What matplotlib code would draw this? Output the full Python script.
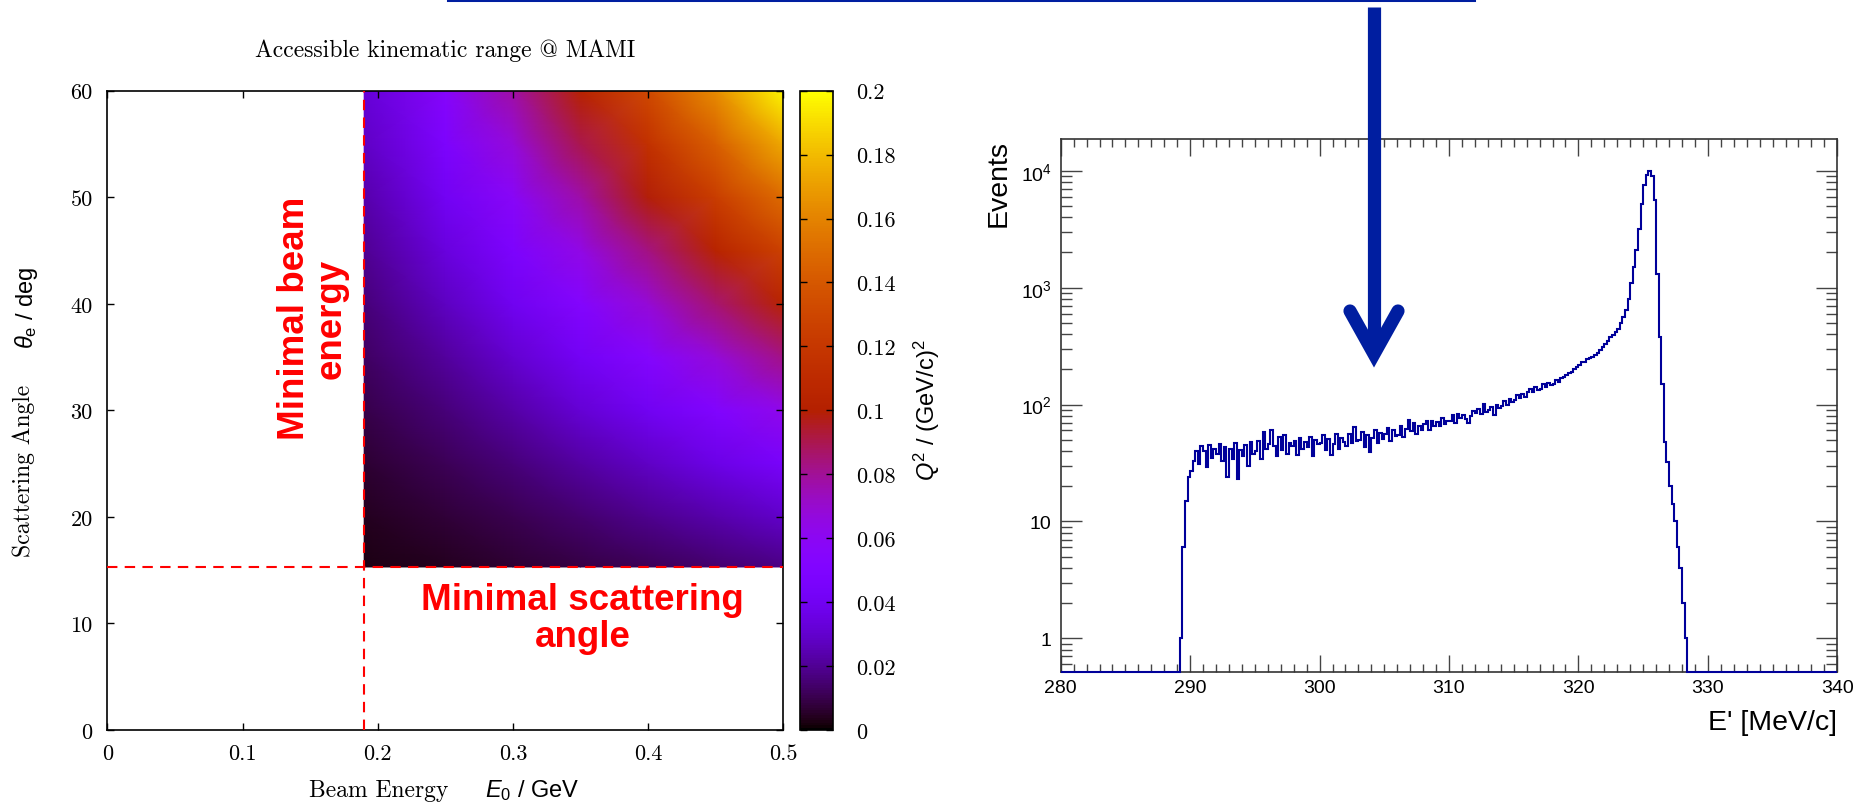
import numpy as np
import matplotlib
matplotlib.use("Agg")
import matplotlib.pyplot as plt
from matplotlib.lines import Line2D
from matplotlib.ticker import (FixedLocator, FixedFormatter, LogLocator,
                               NullFormatter, MultipleLocator, FormatStrFormatter)

plt.rcParams["font.family"] = ["Liberation Sans", "DejaVu Sans"]
plt.rcParams["mathtext.fontset"] = "custom"
plt.rcParams["mathtext.rm"] = "Liberation Sans"
plt.rcParams["mathtext.it"] = "Liberation Sans:italic"
plt.rcParams["mathtext.bf"] = "Liberation Sans:bold"

SERIF = ["cmr10", "DejaVu Serif"]
W, H = 1867, 804

# ----------------------------
# Left panel: Q^2 over beam energy / scattering angle
# ----------------------------
E_MIN = 0.19        # GeV, minimal beam energy
THETA_MIN = 15.3    # deg, minimal scattering angle

beam_energy = [0.19, 0.25, 0.30, 0.35, 0.40, 0.45, 0.50]
theta = [15.3, 20, 25, 30, 35, 40, 45, 50, 55, 60]
# rows = theta, columns = beam energy, values in (GeV/c)^2
q2 = [
    [0.0025, 0.0044, 0.0063, 0.0086, 0.0112, 0.0141, 0.0174],
    [0.0043, 0.0074, 0.0107, 0.0145, 0.0188, 0.0237, 0.0292],
    [0.0066, 0.0114, 0.0164, 0.0222, 0.0288, 0.0363, 0.0446],
    [0.0094, 0.0162, 0.0231, 0.0313, 0.0406, 0.0510, 0.0625],
    [0.0126, 0.0216, 0.0308, 0.0415, 0.0537, 0.0674, 0.0825],
    [0.0161, 0.0275, 0.0392, 0.0527, 0.0681, 0.0852, 0.1040],
    [0.0200, 0.0340, 0.0482, 0.0647, 0.0833, 0.1040, 0.1267],
    [0.0241, 0.0408, 0.0577, 0.0772, 0.0992, 0.1235, 0.1500],
    [0.0283, 0.0479, 0.0675, 0.0901, 0.1155, 0.1434, 0.1737],
    [0.0328, 0.0552, 0.0776, 0.1032, 0.1319, 0.1633, 0.1974],
]
q2_ticks = [0, 0.02, 0.04, 0.06, 0.08, 0.1, 0.12, 0.14, 0.16, 0.18, 0.2]

# ----------------------------
# Right panel: E' spectrum, 0.2 MeV bins from 289 to 329 MeV
# ----------------------------
HIST_LO, HIST_HI = 289.0, 329.0
events = [
    0, 1, 6, 15, 24,              # 289
    27, 33, 40, 31, 44,           # 290
    40, 29, 45, 35, 42,           # 291
    38, 46, 33, 43, 24,           # 292
    42, 34, 47, 23, 41,           # 293
    36, 45, 30, 48, 38,           # 294
    40, 49, 34, 58, 42,           # 295
    46, 60, 44, 36, 53,           # 296
    41, 55, 38, 47, 44,           # 297
    49, 37, 52, 42, 48,           # 298
    43, 53, 36, 50, 46,           # 299
    47, 55, 41, 51, 37,           # 300
    46, 56, 42, 52, 48,           # 301
    44, 56, 47, 64, 49,           # 302
    50, 58, 43, 55, 39,           # 303
    52, 61, 47, 57, 51,           # 304
    56, 63, 49, 60, 54,           # 305
    55, 66, 53, 62, 74,           # 306
    59, 69, 56, 66, 61,           # 307
    68, 73, 61, 72, 66,           # 308
    71, 65, 77, 68, 73,           # 309
    72, 81, 70, 83, 76,           # 310
    82, 75, 69, 80, 88,           # 311
    84, 91, 83, 102, 87,          # 312
    90, 96, 81, 99, 93,           # 313
    98, 107, 100, 112, 105,       # 314
    110, 120, 113, 124, 116,      # 315
    127, 136, 129, 141, 134,      # 316
    137, 149, 140, 153, 146,      # 317
    151, 162, 156, 170, 172,      # 318
    178, 188, 191, 203, 208,      # 319
    220, 230, 233, 243, 250,      # 320
    256, 268, 276, 292, 308,      # 321
    332, 348, 377, 393, 418,      # 322
    440, 500, 560, 650, 800,      # 323
    1100, 1500, 2100, 3200, 5200,  # 324
    7500, 9200, 10000, 9000, 5600,  # 325
    1300, 380, 150, 48, 32,       # 326
    20, 14, 10, 6, 4,             # 327
    2, 1, 0, 0, 0,                # 328
]
X_RANGE = (280, 340)
Y_RANGE = (0.512, 18700)
y_major = [1, 10, 100, 1000, 10000]
y_major_labels = ["1", "10", r"$10^{2}$", r"$10^{3}$", r"$10^{4}$"]


def fx(x):
    return x / W


def fy(y):
    return 1 - y / H


fig = plt.figure(figsize=(W / 100, H / 100), dpi=100)

ax1 = fig.add_axes([fx(107.3), fy(731), (783.3 - 107.3) / W, (731 - 91.7) / H])
cax = fig.add_axes([fx(799.5), fy(731), 33.5 / W, (731 - 91.7) / H])
ax2 = fig.add_axes([fx(1060.7), fy(673.3), (1837.3 - 1060.7) / W, (673.3 - 140) / H])

# ---- left heatmap
mesh = ax1.pcolormesh(beam_energy, theta, q2, shading="gouraud",
                      cmap="gnuplot", vmin=0, vmax=0.2)
ax1.set_xlim(0, 0.5)
ax1.set_ylim(0, 60)
dash = (0, (5, 3.5))
ax1.axvline(E_MIN, color="red", lw=1.5, ls=dash, zorder=3)
ax1.axhline(THETA_MIN, color="red", lw=1.5, ls=dash, zorder=3)

ax1.xaxis.set_major_locator(MultipleLocator(0.1))
ax1.yaxis.set_major_locator(MultipleLocator(10))
ax1.xaxis.set_major_formatter(FormatStrFormatter("%g"))
ax1.yaxis.set_major_formatter(FormatStrFormatter("%g"))
ax1.tick_params(direction="in", top=True, right=True, length=5, width=1,
                labelsize=16, labelfontfamily="cmr10")
ax1.tick_params(axis="x", pad=10)
ax1.tick_params(axis="y", pad=10.5)
for s in ax1.spines.values():
    s.set_linewidth(1.2)

ax1.text(0.152, 38.7, "Minimal beam\nenergy", rotation=90, color="red",
         fontsize=26.5, fontweight="bold", ha="center", va="center",
         multialignment="center", linespacing=1.05)
ax1.text(0.3516, 10.5, "Minimal scattering\nangle", color="red",
         fontsize=26.5, fontweight="bold", ha="center", va="center",
         multialignment="center", linespacing=1.05)

cb = fig.colorbar(mesh, cax=cax, ticks=q2_ticks)
cb.outline.set_linewidth(1.2)
cax.yaxis.set_major_formatter(FormatStrFormatter("%g"))
cax.tick_params(direction="in", left=True, right=True, length=5, width=1,
                labelsize=16, pad=17, labelfontfamily="cmr10")
cax.minorticks_off()

fig.text(fx(445.3), fy(51), "Accessible kinematic range @ MAMI",
         family=SERIF, size=17, ha="center", va="center")
fig.text(fx(379), fy(791), "Beam Energy", family=SERIF, size=17,
         ha="center", va="center")
fig.text(fx(532), fy(791), r"$E_0$ / GeV", size=17, ha="center", va="center")
fig.text(fx(24), fy(471), "Scattering Angle", family=SERIF, size=17,
         rotation=90, ha="center", va="center")
fig.text(fx(26), fy(308), r"$\theta_\mathregular{e}$ / deg", size=17,
         rotation=90, ha="center", va="center")
fig.text(fx(927), fy(410), r"$Q^2$ / (GeV/c)$^2$", size=17,
         rotation=90, ha="center", va="center")

# ---- right histogram
edges = np.concatenate([[X_RANGE[0]],
                        np.linspace(HIST_LO, HIST_HI, len(events) + 1),
                        [X_RANGE[1]]])
counts = np.array([0] + events + [0], dtype=float)
counts_drawn = np.where(counts > 0, counts, Y_RANGE[0])  # ROOT draws empty bins on the floor
ax2.stairs(counts_drawn, edges, baseline=None, color="#00009a", lw=1.5,
           clip_on=False, zorder=3)
ax2.set_yscale("log")
ax2.set_xlim(*X_RANGE)
ax2.set_ylim(*Y_RANGE)

ax2.yaxis.set_major_locator(FixedLocator(y_major))
ax2.yaxis.set_major_formatter(FixedFormatter(y_major_labels))
ax2.yaxis.set_minor_locator(LogLocator(base=10, subs=np.arange(2, 10), numticks=20))
ax2.yaxis.set_minor_formatter(NullFormatter())
ax2.xaxis.set_major_locator(MultipleLocator(10))
ax2.xaxis.set_minor_locator(MultipleLocator(1))

ax2.tick_params(which="both", direction="in", top=True, right=True,
                color="#444444", width=1, labelsize=14)
ax2.tick_params(axis="x", which="major", length=12.2, pad=5)
ax2.tick_params(axis="x", which="minor", length=5.8)
ax2.tick_params(axis="y", which="major", length=15.1, pad=6.5)
ax2.tick_params(axis="y", which="minor", length=7.9)
for s in ax2.spines.values():
    s.set_linewidth(1.2)
    s.set_color("#333333")

fig.text(fx(999), fy(140), "Events", size=20.5, rotation=90,
         ha="center", va="top")
fig.text(fx(1837.3), fy(723), "E' [MeV/c]", size=20.5, ha="right", va="center")

# ---- arrow decoration
ARROW_C = "#001ea0"
fig.add_artist(Line2D([fx(448), fx(1474)], [fy(0.8), fy(0.8)], lw=2.2, color=ARROW_C))
fig.add_artist(Line2D([fx(1374), fx(1374)], [fy(8), fy(352)], lw=9.5,
                      color=ARROW_C, solid_capstyle="butt"))
fig.add_artist(Line2D([fx(1350), fx(1374), fx(1398)], [fy(312), fy(355), fy(312)],
                      lw=9.5, color=ARROW_C, solid_capstyle="round",
                      solid_joinstyle="miter"))

fig.savefig("out.png", dpi=100)
